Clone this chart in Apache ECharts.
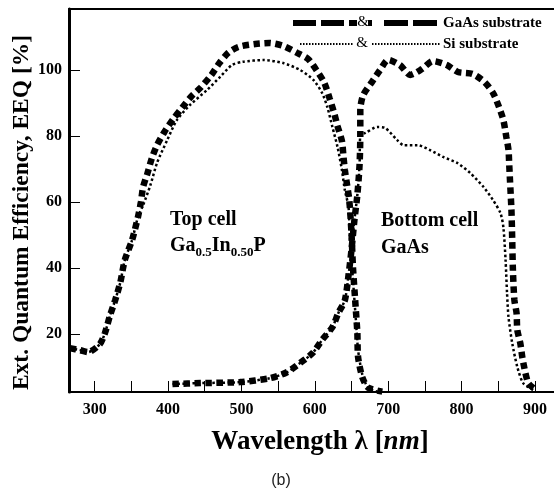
<!DOCTYPE html>
<html>
<head>
<meta charset="utf-8">
<script src="https://cdn.jsdelivr.net/npm/echarts@6/dist/echarts.min.js"></script>
<style>html,body{margin:0;padding:0;background:#fff;}#c{width:554px;height:495px;}</style>
</head>
<body>
<div id="c"></div>
<script>
// ---- data ----
var xTicks = [300, 350, 400, 450, 500, 550, 600, 650, 700, 750, 800, 850, 900];
var xLabels = [300, 400, 500, 600, 700, 800, 900];
var yLabels = [20, 40, 60, 80, 100];

var topCellGaAs = [[266,15.7],[280,15.1],[291,14.5],[307,16.9],[314,20.3],[321,25.7],[328,30.3],[335,35.7],[341,42.4],[351,48.5],[359,55.5],[363,60.0],[366,64.6],[372,68.8],[378,73.4],[385,77.3],[395,81.3],[407,85.2],[419,88.6],[431,91.9],[445,94.9],[459,98.6],[470,102.2],[482,105.3],[496,107.1],[519,108.0],[538,108.3],[557,107.4],[576,105.3],[591,103.4],[603,99.8],[613,96.2],[620,91.6],[626,87.3],[631,83.1],[637,78.5],[639,74.0],[641,69.7],[644,65.2],[647,60.6],[650,50.6],[652,40.3],[655,30.3],[658,20.3],[659,13.0],[665,6.7],[673,3.7],[692,2.5]];

var topCellSi = [[266,15.7],[280,15.1],[291,14.5],[307,16.9],[314,20.3],[321,25.7],[328,30.3],[335,35.7],[341,42.4],[351,48.5],[359,55.5],[366,59.1],[376,65.2],[385,71.9],[399,78.9],[412,84.9],[430,89.5],[453,94.0],[471,98.0],[487,101.6],[502,102.6],[530,103.1],[557,102.2],[580,100.1],[598,97.1],[610,93.1],[617,88.9],[624,82.8],[631,76.7],[637,69.7],[641,63.6],[646,58.5],[648,48.5],[652,36.4],[656,24.2],[659,15.1],[665,7.5],[673,3.6],[686,2.4]];

var bottomCellGaAs = [[406,4.8],[444,5.1],[498,5.4],[539,6.6],[562,8.4],[580,11.2],[597,14.2],[610,18.2],[624,22.1],[632,26.3],[641,30.3],[646,37.9],[650,45.5],[654,54.6],[658,62.2],[661,71.3],[662,80.4],[662,88.0],[666,92.5],[678,96.5],[689,100.1],[700,103.2],[716,101.6],[730,98.6],[746,100.4],[761,102.8],[780,101.6],[795,99.5],[815,98.9],[831,96.5],[843,93.1],[851,88.9],[857,84.9],[861,79.8],[864,75.8],[865,71.3],[866,66.7],[868,57.6],[869,49.1],[870,39.4],[872,30.3],[875,26.3],[876,21.2],[880,17.3],[883,12.7],[887,8.2],[891,5.1],[898,3.6]];

var bottomCellSi = [[406,4.8],[444,5.1],[498,5.4],[539,6.6],[562,8.4],[580,11.2],[597,14.2],[610,18.2],[624,22.1],[632,26.3],[641,30.3],[646,37.9],[650,45.5],[654,54.6],[658,62.2],[661,71.3],[662,80.4],[669,81.0],[685,82.8],[696,82.5],[712,78.9],[721,77.3],[740,77.3],[757,75.8],[775,73.7],[794,71.9],[812,68.8],[830,64.6],[843,60.6],[853,56.7],[857,52.4],[860,42.4],[862,32.4],[864,25.1],[869,17.3],[876,10.0],[884,5.1],[898,3.0]];

// ---- chart ----
var SERIF = '"Liberation Serif", "Times New Roman", serif';
var chart = echarts.init(document.getElementById('c'), null, {renderer: 'canvas'});

var thick = {color: '#000', width: 6.5, type: [6.5, 4.5], cap: 'butt'};
var dotted = {color: '#000', width: 2.5, type: [2.5, 2.5], cap: 'butt'};

function seg(x1, x2, y, w, dash) {
  return {type: 'line', shape: {x1: x1, y1: y, x2: x2, y2: y},
    style: {stroke: '#000', lineWidth: w, lineDash: dash || null}};
}

chart.setOption({
  animation: false,
  backgroundColor: '#fff',
  grid: {left: 69, right: 0, top: 9, bottom: 103, outerBoundsMode: 'none'},
  xAxis: [{
    type: 'value', min: 265, max: 926,
    name: 'Wavelength λ [{i|nm}]',
    nameLocation: 'middle', nameGap: 37, nameMoveOverlap: false,
    nameTextStyle: {fontFamily: SERIF, fontWeight: 'bold', fontSize: 27, color: '#000',
      padding: [0, 0, 0, 17],
      rich: {i: {fontFamily: SERIF, fontWeight: 'bold', fontStyle: 'italic', fontSize: 27, color: '#000'}}},
    axisLine: {show: true, lineStyle: {color: '#000', width: 2}},
    axisTick: {show: true, inside: true, length: 11, customValues: xTicks, lineStyle: {color: '#000', width: 1}},
    axisLabel: {customValues: xLabels, margin: 10, fontFamily: SERIF, fontWeight: 'bold', fontSize: 16, color: '#000'},
    splitLine: {show: false}
  }, {
    type: 'value', min: 265, max: 926, position: 'top',
    axisLine: {show: true, lineStyle: {color: '#000', width: 2}},
    axisTick: {show: false}, axisLabel: {show: false}, splitLine: {show: false}
  }],
  yAxis: {
    type: 'value', min: 2.4, max: 118.6,
    name: 'Ext. Quantum Efficiency, EEQ [%]',
    nameLocation: 'middle', nameRotate: 90, nameGap: 35, nameMoveOverlap: false,
    nameTextStyle: {fontFamily: SERIF, fontWeight: 'bold', fontSize: 23.5, color: '#000',
      padding: [0, 24, 0, 0]},
    axisLine: {show: true, lineStyle: {color: '#000', width: 3}},
    axisTick: {show: true, inside: true, length: 11, customValues: yLabels, lineStyle: {color: '#000', width: 1}},
    axisLabel: {customValues: yLabels, margin: 7, fontFamily: SERIF, fontWeight: 'bold', fontSize: 16, color: '#000'},
    splitLine: {show: false}
  },
  series: [
    {type: 'line', data: topCellGaAs, showSymbol: false, smooth: 0.25, lineStyle: thick, z: 2},
    {type: 'line', data: bottomCellGaAs, showSymbol: false, smooth: 0.25, lineStyle: thick, z: 2},
    {type: 'line', data: topCellSi, showSymbol: false, smooth: 0.25, lineStyle: dotted, z: 3},
    {type: 'line', data: bottomCellSi, showSymbol: false, smooth: 0.25, lineStyle: dotted, z: 3}
  ],
  graphic: [
    // legend row 1
    seg(293, 357, 23, 6, [23, 5]),
    seg(368, 372, 23, 6),
    seg(384, 437, 23, 6, [24, 5]),
    {type: 'text', x: 363, y: 22, style: {text: '&', font: '15px ' + SERIF, fill: '#000', align: 'center', verticalAlign: 'middle'}},
    {type: 'text', x: 443, y: 23, style: {text: 'GaAs substrate', font: 'bold 15px ' + SERIF, fill: '#000', align: 'left', verticalAlign: 'middle'}},
    // legend row 2
    seg(300, 353, 44, 2, [1.5, 1.5]),
    seg(372, 440, 44, 2, [1.5, 1.5]),
    {type: 'text', x: 362, y: 43, style: {text: '&', font: '15px ' + SERIF, fill: '#000', align: 'center', verticalAlign: 'middle'}},
    {type: 'text', x: 443, y: 44, style: {text: 'Si substrate', font: 'bold 15px ' + SERIF, fill: '#000', align: 'left', verticalAlign: 'middle'}},
    // annotations
    {type: 'text', x: 170, y: 220, style: {text: 'Top cell', font: 'bold 20px ' + SERIF, fill: '#000', align: 'left', verticalAlign: 'middle'}},
    {type: 'text', x: 170, y: 236, style: {
      text: '{n|Ga}{s|0.5}{n|In}{s|0.50}{n|P}', fill: '#000', align: 'left', verticalAlign: 'top',
      rich: {
        n: {font: 'bold 20px ' + SERIF, fill: '#000', lineHeight: 20, verticalAlign: 'top'},
        s: {font: 'bold 13px ' + SERIF, fill: '#000', lineHeight: 13, padding: [10, 0, 0, 0], verticalAlign: 'top'}
      }}},
    {type: 'text', x: 381, y: 221, style: {text: 'Bottom cell', font: 'bold 20px ' + SERIF, fill: '#000', align: 'left', verticalAlign: 'middle'}},
    {type: 'text', x: 381, y: 248, style: {text: 'GaAs', font: 'bold 20px ' + SERIF, fill: '#000', align: 'left', verticalAlign: 'middle'}},
    // caption
    {type: 'text', x: 281, y: 481, style: {text: '(b)', font: '16px "Liberation Sans", Arial, sans-serif', fill: '#222', align: 'center', verticalAlign: 'middle'}}
  ]
});
</script>
</body>
</html>
